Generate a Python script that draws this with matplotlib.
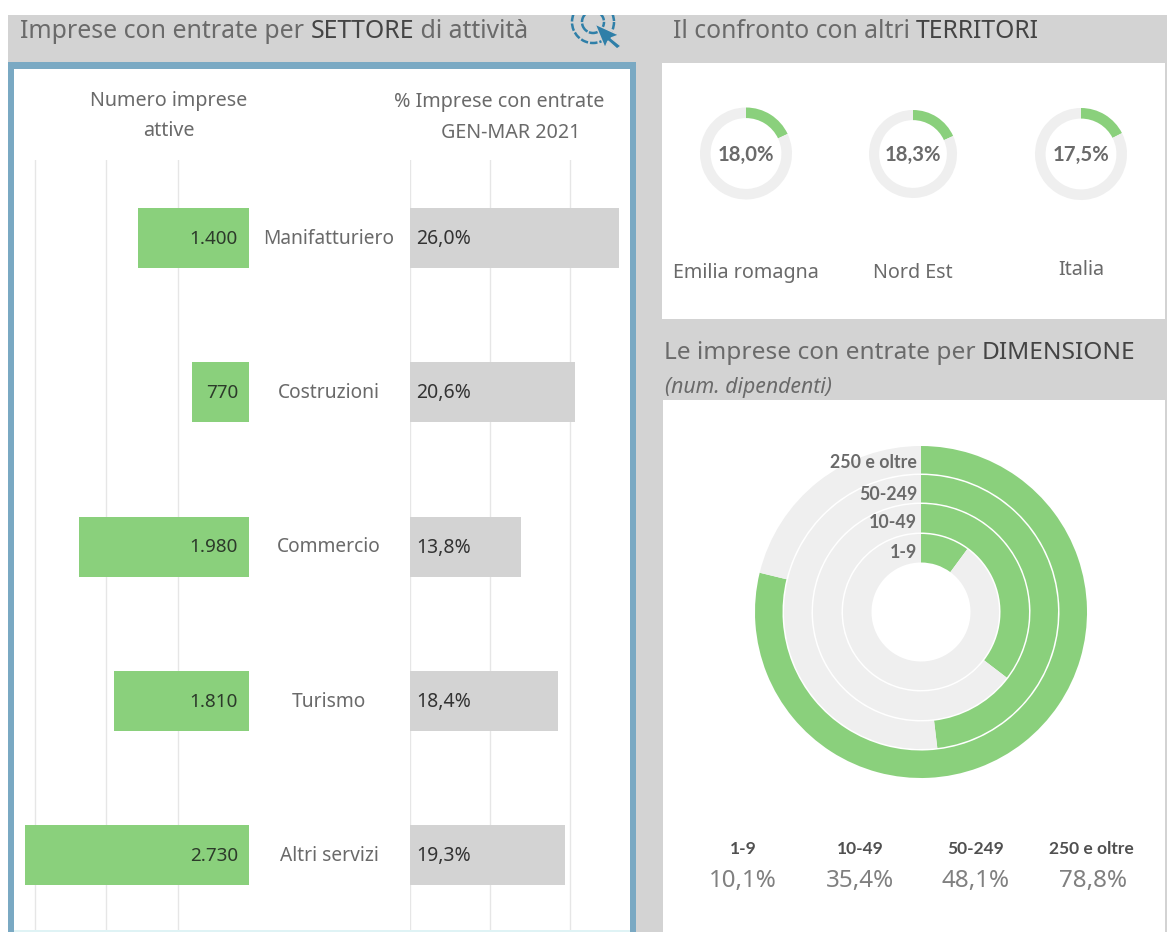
import matplotlib
matplotlib.use('Agg')
import matplotlib.pyplot as plt
from matplotlib.patches import Rectangle, Arc, Polygon

W, H = 1167, 932

# data
settori = ['Manifatturiero', 'Costruzioni', 'Commercio', 'Turismo', 'Altri servizi']
imprese_label = ['1.400', '770', '1.980', '1.810', '2.730']
# drawn bar length, in units of the gridlines (the bars do not follow the labels exactly)
imprese_bar = [1552, 797, 2378, 1888, 3133]
entrate_pct = [26.0, 20.6, 13.8, 18.4, 19.3]
entrate_label = ['26,0%', '20,6%', '13,8%', '18,4%', '19,3%']

territori = ['Emilia romagna', 'Nord Est', 'Italia']
territori_pct = [18.0, 18.3, 17.5]
territori_label = ['18,0%', '18,3%', '17,5%']

dimensioni = ['1-9', '10-49', '50-249', '250 e oltre']
dimensioni_pct = [10.1, 35.4, 48.1, 78.8]
dimensioni_label = ['10,1%', '35,4%', '48,1%', '78,8%']

GREEN = '#8ad07c'
LIGHT = '#efefef'
GREY = '#d3d3d3'
BLUE = '#7aa9c3'
TXT = '#6a6a6a'
DARK = '#505050'
BOLD_FONT = 'Lato'  # Noto Sans has no bold face here

plt.rcParams['font.family'] = 'Noto Sans'

fig = plt.figure(figsize=(W / 100, H / 100), dpi=100, facecolor='white')


def pix_axes(x0, y0, x1, y1):
    # axes placed with picture pixels, y going down
    ax = fig.add_axes([x0 / W, 1 - y1 / H, (x1 - x0) / W, (y1 - y0) / H])
    ax.patch.set_alpha(0)
    return ax


bg = pix_axes(0, 0, W, H)
bg.set_xlim(0, W)
bg.set_ylim(H, 0)
bg.axis('off')

# all text goes on this one so the rings cannot cover it
fg = pix_axes(0, 0, W, H)
fg.set_xlim(0, W)
fg.set_ylim(H, 0)
fg.axis('off')
fg.set_zorder(10)


def box(x0, y0, x1, y1, color, z=1):
    bg.add_patch(Rectangle((x0, y0), x1 - x0, y1 - y0, fc=color, ec='none', zorder=z))


box(8, 15, W, H, GREY)
box(8, 62, 636, H, BLUE)
box(14, 69, 630, 930, 'white')
box(14, 930, 630, H, '#dff3f5')
box(662, 63, 1165, 319, 'white')
box(663, 400, 1165, H, 'white')


def title(x, y, parts, size):
    # text pieces in a row, regular and darker capitals
    r = fig.canvas.get_renderer()
    for s, col in parts:
        t = fg.text(x, y, s, fontsize=size, color=col, va='center', ha='left')
        x = t.get_window_extent(r).x1


title(20, 32, [('Imprese con entrate per ', TXT), ('SETTORE', '#444444'), (' di attività', TXT)], 17.9)
title(673, 31, [('Il confronto con altri ', TXT), ('TERRITORI', '#444444')], 17.8)
title(664, 353, [('Le imprese con entrate per ', TXT), ('DIMENSIONE', '#444444')], 17.6)
fg.text(665, 387, '(num. dipendenti)', fontsize=15.3, style='italic', color=TXT, va='center')

# click icon, cut by the white band on top
ICON = '#2f7fa8'
for d, ls in [(22, (0, (4, 0.6))), (42, (0, (3, 0.8)))]:
    bg.add_patch(Arc((593, 22), d, d, theta1=0, theta2=360, ec=ICON, lw=1.8, ls=ls, zorder=3))
bg.add_patch(Polygon([(595, 24), (619, 35), (611, 38), (621, 46), (617, 49), (608, 41), (605, 48)],
                     fc=ICON, ec=GREY, lw=1, zorder=4))
box(0, 0, W, 15, 'white', 4.5)
box(0, 0, 8, H, 'white', 4.5)

# column heads
for s, x, y in [('Numero imprese', 169, 101), ('attive', 169, 131),
                ('% Imprese con entrate', 499, 102), ('GEN-MAR 2021', 511, 133)]:
    fg.text(x, y, s, fontsize=14.2, color=TXT, ha='center', va='center')

ypos = list(range(len(settori)))
YLIM = (4.486, -0.506)
BAR_H = 0.389

# left bars
ax_l = pix_axes(20, 160, 249, 930)
ax_l.barh(ypos, imprese_bar, height=BAR_H, color=GREEN, zorder=2)
ax_l.set_xlim(3203, 0)
ax_l.set_ylim(*YLIM)
ax_l.set_xticks([1000, 2000, 3000])
ax_l.grid(axis='x', color='#e6e6e6', lw=1, zorder=0)
ax_l.tick_params(length=0, labelbottom=False, labelleft=False)
for s in ax_l.spines.values():
    s.set_visible(False)

# right bars
ax_r = pix_axes(410, 160, 625, 930)
ax_r.barh(ypos, entrate_pct, height=BAR_H, color=GREY, zorder=2)
ax_r.set_xlim(0, 215 / 8.02)
ax_r.set_ylim(*YLIM)
ax_r.set_xticks([0, 10, 20])
ax_r.grid(axis='x', color='#e6e6e6', lw=1, zorder=0)
ax_r.tick_params(length=0, labelbottom=False, labelleft=False)
for s in ax_r.spines.values():
    s.set_visible(False)

# labels of the two bar columns
for i, s in enumerate(settori):
    y = 239 + i * 154.25
    fg.text(329, y, s, fontsize=13.8, color=TXT, ha='center', va='center')
    fg.text(238, y, imprese_label[i], fontsize=13.6, color='#2c3a2a', ha='right', va='center')
    fg.text(416, y, entrate_label[i], fontsize=14, color='#333333', ha='left', va='center')

# territory donuts
donut_cx = [746, 913, 1081]
donut_cy = [153.5, 154, 154]
donut_r = [46, 44, 46]
name_y = [273, 273, 270]
for i, nome in enumerate(territori):
    cx, cy, r = donut_cx[i], donut_cy[i], donut_r[i]
    ax = pix_axes(cx - r, cy - r, cx + r, cy + r)
    ax.pie([territori_pct[i], 100 - territori_pct[i]], colors=[GREEN, LIGHT], startangle=90,
           counterclock=False, radius=1, wedgeprops={'width': 0.23})
    ax.set_xlim(-1, 1)
    ax.set_ylim(-1, 1)
    fg.text(cx, cy + 1, territori_label[i], fontsize=14.6, family=BOLD_FONT, fontweight='bold', color=TXT,
            ha='center', va='center')
    fg.text(cx, name_y[i], nome, fontsize=14.2, color=TXT, ha='center', va='center')

# nested rings by size
RCX, RCY, RMAX = 921, 612, 166
ring_outer = [78, 108, 137, 166]
ring_inner = [49.5, 79.5, 109.5, 138.5]
ax_ring = pix_axes(RCX - RMAX, RCY - RMAX, RCX + RMAX, RCY + RMAX)
for i in range(len(dimensioni)):
    ax_ring.pie([dimensioni_pct[i], 100 - dimensioni_pct[i]], colors=[GREEN, LIGHT], startangle=90,
                counterclock=False, radius=ring_outer[i] / RMAX,
                wedgeprops={'width': (ring_outer[i] - ring_inner[i]) / RMAX})
ax_ring.set_xlim(-1, 1)
ax_ring.set_ylim(-1, 1)

ring_label_y = [553, 522, 494, 463]
for s, y in zip(dimensioni, ring_label_y):
    fg.text(917, y, s, fontsize=12.8, family=BOLD_FONT, fontweight='bold', color=TXT, ha='right', va='center')

# table under the rings
head_x = [743, 860, 976, 1091]
val_x = [743, 860, 976, 1093]
for i, s in enumerate(dimensioni):
    fg.text(head_x[i], 849, s, fontsize=12.5, family=BOLD_FONT, fontweight='bold', color=DARK, ha='center', va='center')
    fg.text(val_x[i], 881, dimensioni_label[i], fontsize=17.4, color='#808080', ha='center', va='center')

fig.savefig('out.png', dpi=100, facecolor='white')
